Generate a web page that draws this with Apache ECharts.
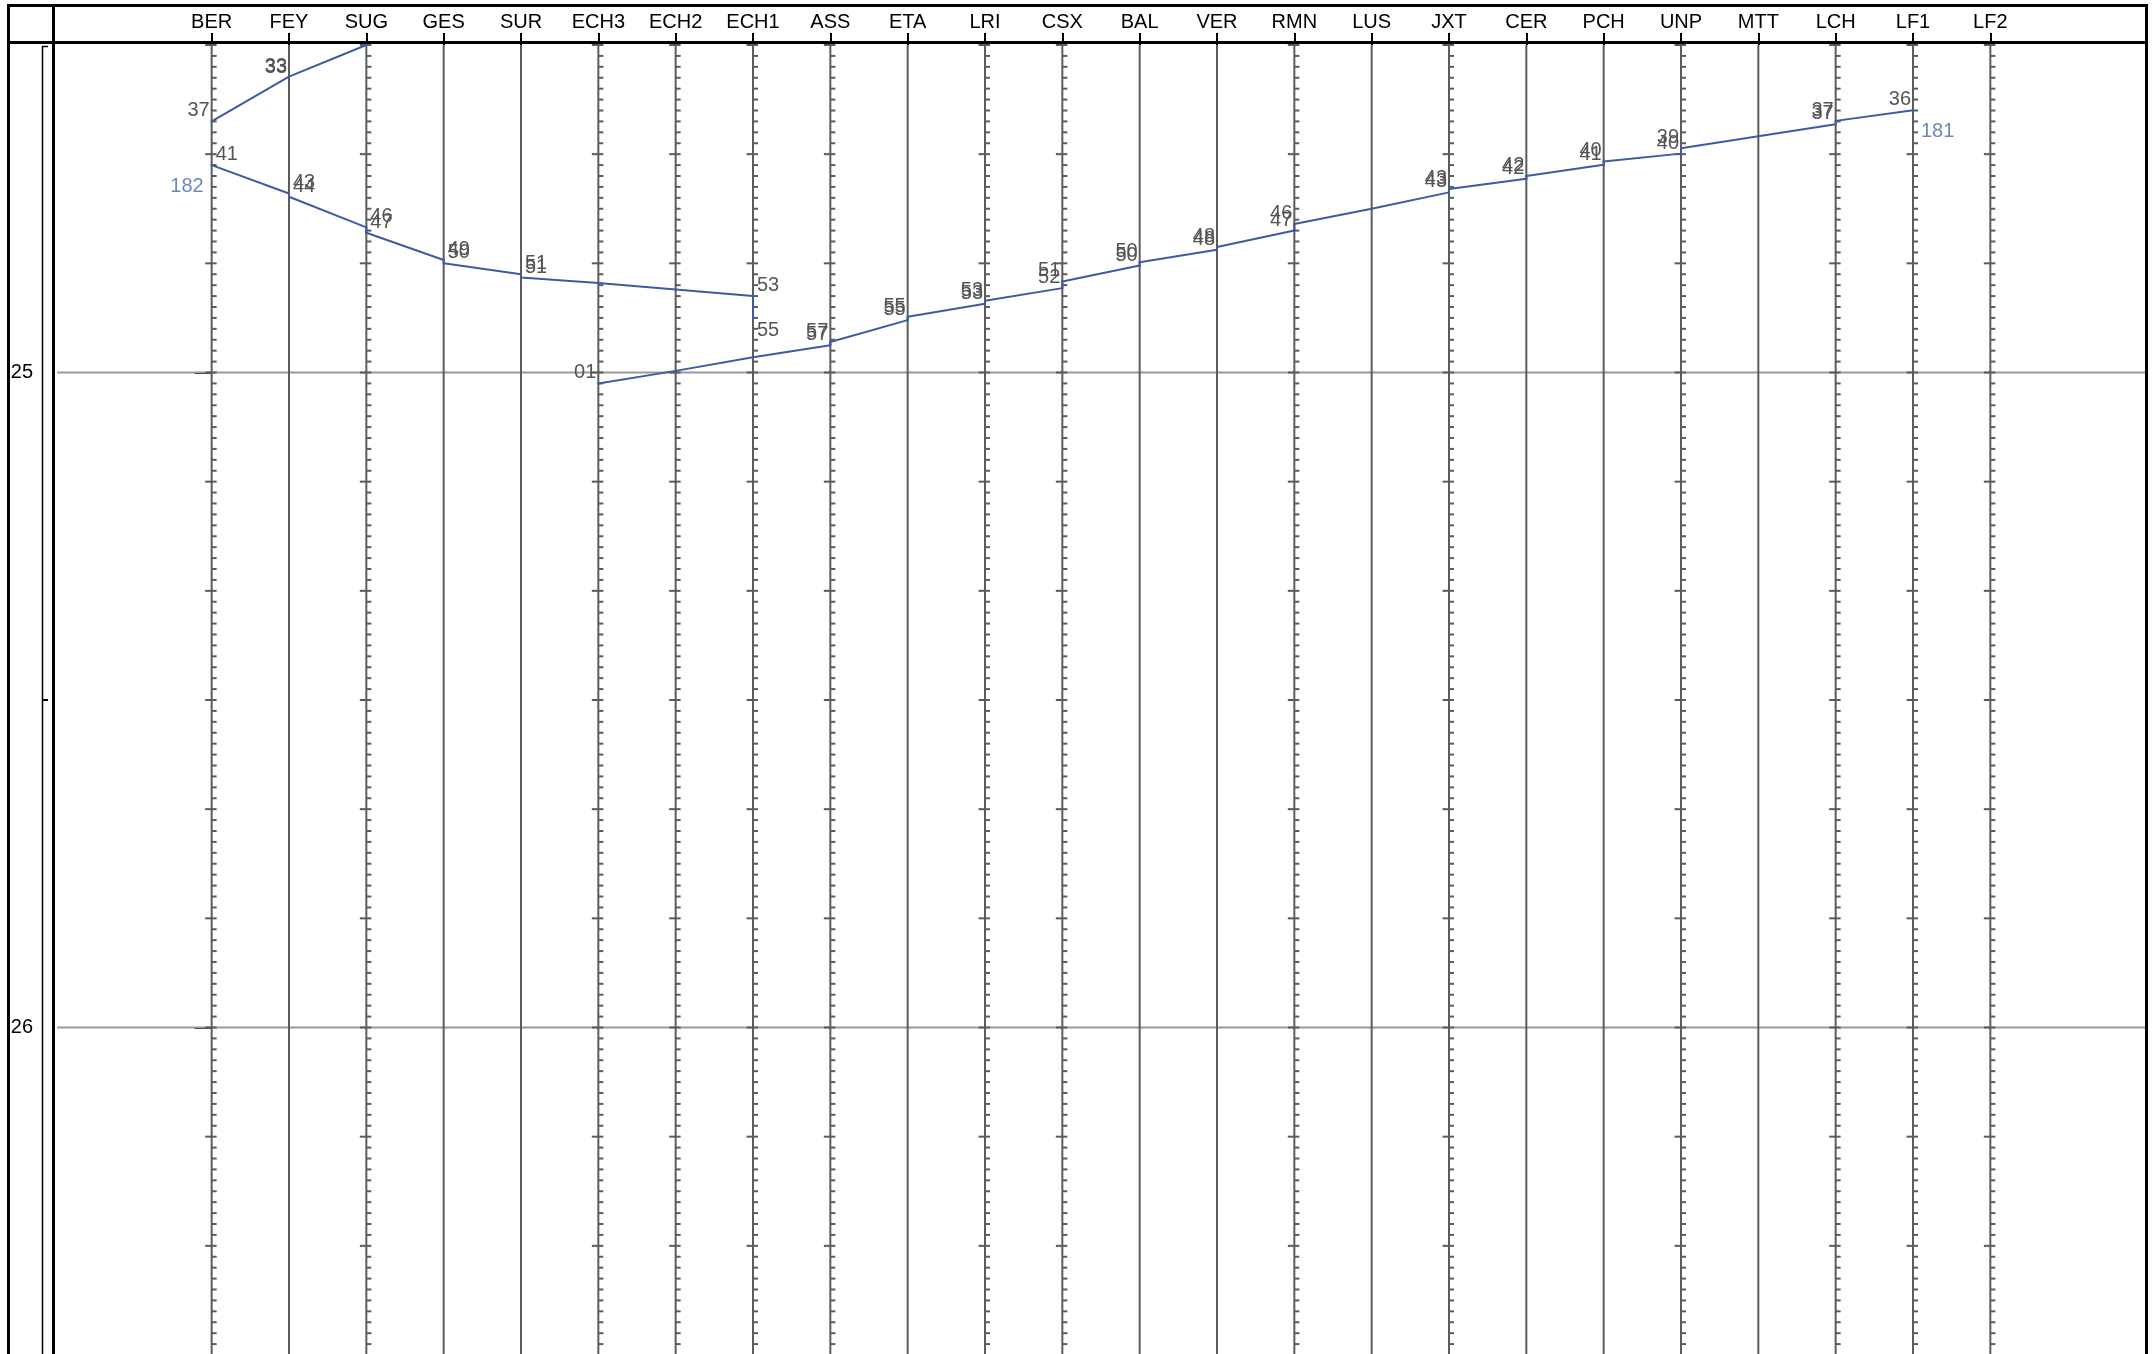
<!DOCTYPE html>
<html>
<head>
<meta charset="utf-8">
<title>Graphique horaire</title>
<script src="https://cdn.jsdelivr.net/npm/echarts@6/dist/echarts.min.js"></script>
<style>
  html, body { margin: 0; padding: 0; background: #fff; }
  #chart { width: 2154px; height: 1354px; }
</style>
</head>
<body>
<div id="chart"></div>
<script>
// stations along the line, left to right
var stations = ['BER', 'FEY', 'SUG', 'GES', 'SUR', 'ECH3', 'ECH2', 'ECH1', 'ASS', 'ETA', 'LRI', 'CSX',
  'BAL', 'VER', 'RMN', 'LUS', 'JXT', 'CER', 'PCH', 'UNP', 'MTT', 'LCH', 'LF1', 'LF2'];
// stations whose line carries the minute ticks
var tickedStations = ['BER', 'SUG', 'ECH3', 'ECH2', 'ECH1', 'ASS', 'LRI', 'CSX', 'RMN', 'JXT', 'UNP', 'LCH', 'LF1', 'LF2'];

// time in minutes after midnight (24:30 .. 26:30 shown)
var timeMin = 1470;
var timeMax = 1590;
var hourValues = [1500, 1560];
var halfHourValues = [1530];

// train without number, ends at BER
var trainAStations = ['SUG', 'FEY', 'BER'];
var trainAArr = [null, 1472.9, 1477.0];
var trainADep = [1470.0, 1473.0, null];
var trainAArrText = ['', '33', '37'];
var trainADepText = ['', '33', ''];

// train 182, BER -> ECH1
var train182Stations = ['BER', 'FEY', 'SUG', 'GES', 'SUR', 'ECH3', 'ECH2', 'ECH1'];
var train182Arr = [null, 1483.6, 1486.7, 1489.7, 1491.0, 1491.8, 1492.4, 1493.0];
var train182Dep = [1481.0, 1483.9, 1487.2, 1490.0, 1491.3, null, null, 1495.0];
var train182ArrText = ['', '43', '46', '49', '51', '', '', '53'];
var train182DepText = ['41', '44', '47', '50', '51', '', '', '55'];

// train 181, LF1 -> ECH3
var train181Stations = ['LF1', 'LCH', 'MTT', 'UNP', 'PCH', 'CER', 'JXT', 'LUS', 'RMN', 'VER', 'BAL', 'CSX',
  'LRI', 'ETA', 'ASS', 'ECH1', 'ECH2', 'ECH3'];
var train181Arr = [null, 1476.95, 1478.35, 1479.45, 1480.67, 1482.0, 1483.2, 1485.0, 1486.4, 1488.5, 1489.9,
  1491.66, 1493.43, 1494.9, 1497.2, 1498.6, 1499.85, 1501.0];
var train181Dep = [1475.97, 1477.25, null, 1479.95, 1480.97, 1482.26, 1483.5, null, 1487.0, 1488.76, 1490.2,
  1492.27, 1493.7, 1495.2, 1497.5, null, null, null];
var train181ArrText = ['', '37', '', '39', '40', '42', '43', '', '46', '48', '50', '51', '53', '55', '57', '', '', '01'];
var train181DepText = ['36', '37', '', '40', '41', '42', '43', '', '47', '48', '50', '52', '53', '55', '57', '', '', ''];

var FONT = 'Liberation Sans, Arial, sans-serif';
var TRAIN_COLOR = '#3d5ba3';
var GRID_GREY = '#5c5c5c';

function timePoint(x, t, text, goesLeft, below) {
  var item = { value: [x, t] };
  if (text) {
    item.label = {
      show: true,
      formatter: text,
      align: goesLeft ? 'right' : 'left',
      verticalAlign: 'middle',
      position: [goesLeft ? -1 : 5, below ? 14 : -9.5]
    };
  }
  return item;
}

function trainSeries(name, st, arr, dep, arrText, depText) {
  var goesLeft = stations.indexOf(st[1]) < stations.indexOf(st[0]);
  var data = [];
  for (var i = 0; i < st.length; i++) {
    var x = stations.indexOf(st[i]);
    var last = i === st.length - 1;
    if (arr[i] != null) data.push(timePoint(x, arr[i], arrText[i], goesLeft, false));
    if (dep[i] != null) data.push(timePoint(x, dep[i], depText[i], goesLeft, last));
  }
  var out = [{
    type: 'line',
    data: data,
    symbol: 'rect',
    symbolSize: 2,
    itemStyle: { color: TRAIN_COLOR },
    lineStyle: { color: TRAIN_COLOR, width: 2 },
    label: { show: false, fontSize: 20, color: '#555', fontFamily: FONT },
    z: 5
  }];
  if (name) {
    // train number next to its first point, on the other side
    out.push({
      type: 'scatter',
      symbolSize: 0,
      data: [{
        value: [stations.indexOf(st[0]), dep[0]],
        label: {
          show: true,
          formatter: name,
          align: goesLeft ? 'left' : 'right',
          verticalAlign: 'middle',
          position: [goesLeft ? 8 : -8, 21],
          fontSize: 20,
          color: '#4a68ad',
          fontFamily: FONT
        }
      }],
      z: 5
    });
  }
  return out;
}

var stationIdx = stations.map(function (s, i) { return i; });

var chart = echarts.init(document.getElementById('chart'));

var series = [
  {
    // hour grid lines
    type: 'custom',
    silent: true,
    z: 1,
    data: hourValues.map(function (v) { return [0, v]; }),
    renderItem: function (params, api) {
      var y = api.coord([0, api.value(1)])[1];
      return {
        type: 'line',
        shape: { x1: params.coordSys.x, y1: y, x2: params.coordSys.x + params.coordSys.width, y2: y },
        style: { stroke: '#999', lineWidth: 2 }
      };
    }
  },
  {
    // station lines with minute ticks
    type: 'custom',
    silent: true,
    z: 2,
    data: stations.map(function (s, i) { return [i, tickedStations.indexOf(s) >= 0 ? 1 : 0]; }),
    renderItem: function (params, api) {
      var i = api.value(0);
      var top = api.coord([i, timeMin]);
      var bot = api.coord([i, timeMax]);
      var children = [{
        type: 'line',
        shape: { x1: top[0], y1: top[1], x2: bot[0], y2: bot[1] },
        style: { stroke: GRID_GREY, lineWidth: 2 }
      }];
      if (api.value(1)) {
        for (var m = timeMin; m <= timeMax; m++) {
          var p = api.coord([i, m]);
          var major = m % 10 === 0;
          children.push({
            type: 'line',
            shape: { x1: p[0] - (major ? 6.5 : 0), y1: p[1], x2: p[0] + 5, y2: p[1] },
            style: { stroke: GRID_GREY, lineWidth: 2 }
          });
        }
      }
      return { type: 'group', children: children };
    }
  }
];

series = series
  .concat(trainSeries(null, trainAStations, trainAArr, trainADep, trainAArrText, trainADepText))
  .concat(trainSeries('182', train182Stations, train182Arr, train182Dep, train182ArrText, train182DepText))
  .concat(trainSeries('181', train181Stations, train181Arr, train181Dep, train181ArrText, train181DepText));

chart.setOption({
  animation: false,
  backgroundColor: '#fff',
  grid: { left: 57, right: 9, top: 45, height: 1310, containLabel: false, outerBoundsMode: 'none' },
  xAxis: {
    type: 'value',
    position: 'top',
    min: -2,
    max: 25,
    axisLine: { show: false },
    splitLine: { show: false },
    axisTick: { show: true, customValues: stationIdx, length: 12, lineStyle: { color: '#000', width: 2 } },
    axisLabel: {
      customValues: stationIdx,
      formatter: function (v) { return stations[v] || ''; },
      fontSize: 20,
      color: '#000',
      fontFamily: FONT,
      margin: 13
    }
  },
  yAxis: [
    {
      type: 'value',
      inverse: true,
      min: timeMin,
      max: timeMax,
      position: 'left',
      offset: 3,
      axisLine: { show: false },
      splitLine: { show: false },
      axisTick: { show: true, customValues: hourValues, length: 17, lineStyle: { color: '#000', width: 2 } },
      axisLabel: {
        customValues: hourValues,
        formatter: function (v) { return String(v / 60); },
        fontSize: 20,
        color: '#000',
        fontFamily: FONT,
        margin: 21
      }
    },
    {
      type: 'value',
      inverse: true,
      min: timeMin,
      max: timeMax,
      position: 'left',
      offset: 9,
      axisLine: { show: false },
      splitLine: { show: false },
      axisTick: { show: true, customValues: halfHourValues, length: 6, lineStyle: { color: '#000', width: 2 } },
      axisLabel: { show: false, customValues: halfHourValues }
    }
  ],
  graphic: [
    {
      type: 'polyline', z: 100, silent: true,
      shape: { points: [[8.5, 1360], [8.5, 5.5], [2146.5, 5.5], [2146.5, 1360]] },
      style: { stroke: '#000', lineWidth: 3, fill: null }
    },
    {
      type: 'line', z: 100, silent: true,
      shape: { x1: 8.5, y1: 42.5, x2: 2146.5, y2: 42.5 },
      style: { stroke: '#000', lineWidth: 3 }
    },
    {
      type: 'line', z: 100, silent: true,
      shape: { x1: 53.5, y1: 5.5, x2: 53.5, y2: 1360 },
      style: { stroke: '#000', lineWidth: 3 }
    },
    {
      type: 'polyline', z: 100, silent: true,
      shape: { points: [[48, 46.5], [42.5, 46.5], [42.5, 1360]] },
      style: { stroke: '#000', lineWidth: 1.5, fill: null }
    }
  ],
  series: series
});
</script>
</body>
</html>
